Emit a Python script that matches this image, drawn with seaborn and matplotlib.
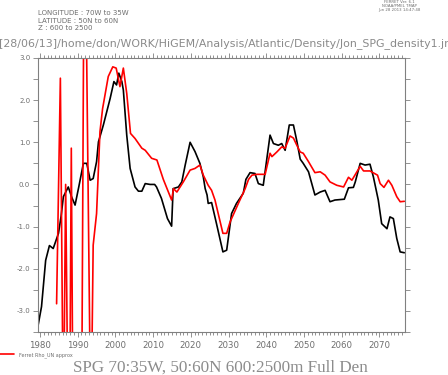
import numpy as np
import pandas as pd
import matplotlib
matplotlib.use("Agg")
import matplotlib.pyplot as plt
from matplotlib.ticker import MultipleLocator
import seaborn as sns

# full density (black)
black_years = [1979.5, 1980.4, 1981.5, 1982.5, 1983.5, 1984.9, 1985.6, 1986.2, 1987.5, 1988.4,
               1989.3, 1990.3, 1991.5, 1992.4, 1993.3, 1994.1, 1995.0, 1995.5, 1996.8, 1998.6,
               1999.6, 2000.3, 2000.9, 2001.7, 2002.1, 2003.0, 2003.9, 2005.2, 2006.1, 2007.0,
               2007.9, 2009.2, 2010.4, 2010.9, 2012.2, 2013.8, 2014.9, 2015.3, 2016.7, 2017.6,
               2018.5, 2019.8, 2021.1, 2022.4, 2023.3, 2023.8, 2024.3, 2024.6, 2025.5, 2026.8,
               2028.5, 2029.5, 2030.8, 2032.1, 2033.9, 2034.6, 2035.7, 2037.0, 2037.9, 2039.2,
               2041.0, 2041.9, 2043.2, 2044.1, 2045.0, 2046.1, 2047.2, 2048.1, 2049.0, 2049.8,
               2051.2, 2052.9, 2054.3, 2055.6, 2056.9, 2058.2, 2060.7, 2061.8, 2063.1, 2063.6,
               2064.9, 2066.2, 2067.5, 2068.4, 2069.7, 2070.6, 2072.0, 2072.8, 2073.7, 2074.6,
               2075.5, 2076.6]
black_vals = [-3.34, -2.9, -1.8, -1.45, -1.52, -1.16, -0.75, -0.29, -0.06, -0.3,
              -0.49, -0.05, 0.5, 0.5, 0.1, 0.14, 0.54, 1.01, 1.41, 2.04,
              2.44, 2.36, 2.64, 2.44, 2.24, 1.17, 0.38, -0.06, -0.16, -0.16,
              0.02, 0.0, 0.0, -0.06, -0.33, -0.81, -0.99, -0.1, -0.06, 0.06,
              0.46, 1.0, 0.78, 0.5, 0.18, -0.1, -0.25, -0.45, -0.43, -0.93,
              -1.6, -1.56, -0.69, -0.45, -0.21, 0.12, 0.28, 0.26, 0.02, -0.02,
              1.17, 0.97, 0.93, 0.97, 0.81, 1.41, 1.41, 1.03, 0.6, 0.5,
              0.3, -0.25, -0.18, -0.14, -0.41, -0.37, -0.35, -0.08, -0.07, 0.06,
              0.5, 0.46, 0.48, 0.18, -0.37, -0.93, -1.05, -0.77, -0.81, -1.28,
              -1.6, -1.62]

# Ferret Rho_UN approx (red); early spikes run off the axes
red_years = [1984.4, 1985.4, 1986.2, 1986.8, 1987.7, 1988.3, 1988.9, 1990.9, 1991.8, 1993.3,
             1993.5, 1994.1, 1995.0, 1995.9, 1996.6, 1998.1, 1999.3, 2000.2, 2001.2, 2002.1,
             2003.0, 2004.0, 2005.2, 2007.0, 2007.9, 2009.6, 2011.0, 2012.7, 2014.9, 2015.4,
             2016.3, 2018.0, 2019.8, 2021.1, 2022.4, 2023.3, 2024.6, 2025.5, 2026.4, 2028.5,
             2029.5, 2030.4, 2032.6, 2034.4, 2035.3, 2036.2, 2037.5, 2039.7, 2041.0, 2041.5,
             2042.8, 2044.1, 2045.0, 2046.3, 2047.2, 2048.1, 2049.0, 2049.8, 2051.2, 2052.9,
             2054.3, 2055.6, 2056.9, 2058.7, 2060.5, 2061.8, 2062.7, 2064.9, 2065.8, 2067.5,
             2069.5, 2070.2, 2071.2, 2072.4, 2073.3, 2074.6, 2075.5, 2076.6]
red_vals = [-2.83, 2.52, -6.0, 0.0, -8.0, 0.86, -8.0, -8.0, 7.7, -4.5,
            -6.0, -1.44, -0.69, 1.25, 1.8, 2.56, 2.79, 2.76, 2.32, 2.76,
            2.16, 1.21, 1.09, 0.86, 0.81, 0.62, 0.58, 0.12, -0.37, -0.1,
            -0.18, 0.06, 0.34, 0.38, 0.46, 0.22, -0.02, -0.14, -0.37, -1.16,
            -1.16, -0.89, -0.45, -0.1, 0.12, 0.22, 0.24, 0.24, 0.74, 0.66,
            0.77, 0.89, 0.86, 1.15, 1.1, 0.93, 0.77, 0.74, 0.54, 0.28,
            0.3, 0.22, 0.06, -0.02, -0.06, 0.17, 0.1, 0.43, 0.32, 0.32,
            0.22, 0.02, -0.07, 0.1, -0.02, -0.29, -0.41, -0.4]

x_ticks = [1980, 1990, 2000, 2010, 2020, 2030, 2040, 2050, 2060, 2070]
y_ticks = [-3.0, -2.0, -1.0, 0.0, 1.0, 2.0, 3.0]

sns.set_theme(style="white")
plt.rcParams['font.family'] = ['DejaVu Sans']

grey = "#808080"
txt = "#6e6e6e"

fig = plt.figure(figsize=(4.48, 3.75), dpi=100)
ax = fig.add_axes([0.0855, 0.1147, 0.8178, 0.7307])

sns.lineplot(x=black_years, y=black_vals, color="black", lw=1.2, ax=ax,
             estimator=None, sort=False)
sns.lineplot(x=red_years, y=red_vals, color="#ff0000", lw=1.2, ax=ax,
             estimator=None, sort=False, label="Ferret Rho_UN approx", legend=False)

ax.set_xlim(1979.55, 2076.7)
ax.set_ylim(-3.5, 3.0)
ax.set_xticks(x_ticks)
ax.set_xticklabels([str(t) for t in x_ticks])
ax.set_yticks(y_ticks)
ax.set_yticklabels(["%.1f" % t for t in y_ticks])
ax.xaxis.set_minor_locator(MultipleLocator(1))
ax.yaxis.set_minor_locator(MultipleLocator(0.5))

for sp in ax.spines.values():
    sp.set_color(grey)
    sp.set_linewidth(0.8)

ax.tick_params(axis="x", which="both", direction="out", top=True, bottom=True,
               colors=grey, labelcolor=txt, labelsize=6.2, width=0.6, pad=3)
ax.tick_params(axis="x", which="major", length=3.8)
ax.tick_params(axis="x", which="minor", length=2.0)
ax.tick_params(axis="y", which="both", direction="out", left=True, right=True,
               colors=grey, labelcolor=txt, labelsize=5.0, width=0.6, length=3.3, pad=2.5)
ax.set_xlabel("")
ax.set_ylabel("")

# header texts
fig.text(38 / 448, 1 - 13 / 375, "LONGITUDE : 70W to 35W", fontsize=5, color=txt, va="center")
fig.text(38 / 448, 1 - 20.7 / 375, "LATITUDE : 50N to 60N", fontsize=5, color=txt, va="center")
fig.text(38 / 448, 1 - 28.3 / 375, "Z : 600 to 2500", fontsize=5, color=txt, va="center")
fig.text(399 / 448, 1 - 2 / 375, "FERRET Ver. 6.1", fontsize=2.8, color=txt, ha="center", va="center")
fig.text(399 / 448, 1 - 6 / 375, "NOAA/PMEL TMAP", fontsize=2.8, color=txt, ha="center", va="center")
fig.text(399 / 448, 1 - 10 / 375, "Jun 28 2013 14:47:48", fontsize=2.8, color=txt, ha="center", va="center")
fig.text(-1 / 448, 1 - 43.5 / 375,
         "[28/06/13]/home/don/WORK/HiGEM/Analysis/Atlantic/Density/Jon_SPG_density1.jnl",
         fontsize=7.9, color="#8a8a8a", va="center")

# legend and bottom title
h, l = ax.get_legend_handles_labels()
fig.legend(h, l, loc="center left", bbox_to_anchor=(-0.004, 1 - 355 / 375), frameon=False,
           fontsize=3.5, handlelength=3.3, handletextpad=1.0, borderpad=0, borderaxespad=0,
           labelcolor=txt)
fig.text(220 / 448, 1 - 367.5 / 375, "SPG 70:35W, 50:60N 600:2500m Full Den",
         family=["Liberation Serif", "DejaVu Serif"], fontsize=12.3, color="#8c8c8c",
         ha="center", va="center")

plt.savefig("out.png", dpi=100)
plt.close()
